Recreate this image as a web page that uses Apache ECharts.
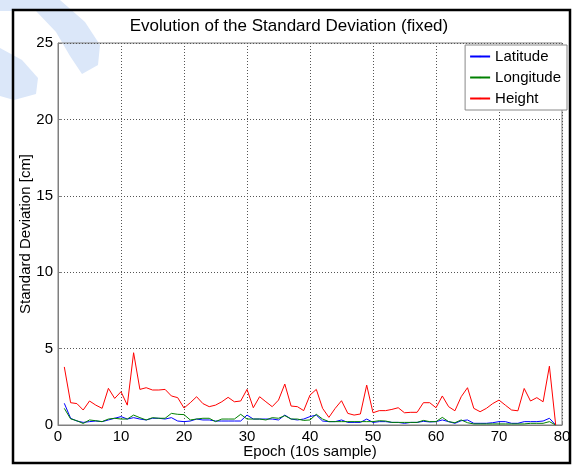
<!DOCTYPE html>
<html>
<head>
<meta charset="utf-8">
<script src="https://cdn.jsdelivr.net/npm/echarts@6/dist/echarts.min.js"></script>
<style>html,body{margin:0;padding:0;background:#fff;}#c{width:572px;height:465px;}</style>
</head>
<body>
<div id="c"></div>
<script>
const epochs = [1,2,3,4,5,6,7,8,9,10,11,12,13,14,15,16,17,18,19,20,21,22,23,24,25,26,27,28,29,30,31,32,33,34,35,36,37,38,39,40,41,42,43,44,45,46,47,48,49,50,51,52,53,54,55,56,57,58,59,60,61,62,63,64,65,66,67,68,69,70,71,72,73,74,75,76,77,78,79];
const latitude = [1.42,0.44,0.26,0.17,0.22,0.26,0.22,0.33,0.44,0.55,0.39,0.48,0.39,0.33,0.44,0.44,0.39,0.48,0.26,0.22,0.26,0.39,0.33,0.33,0.26,0.26,0.26,0.26,0.26,0.65,0.39,0.39,0.39,0.39,0.33,0.65,0.39,0.33,0.39,0.55,0.65,0.26,0.22,0.22,0.33,0.17,0.17,0.17,0.39,0.17,0.22,0.22,0.17,0.17,0.11,0.17,0.17,0.24,0.2,0.22,0.33,0.22,0.11,0.28,0.33,0.11,0.11,0.11,0.15,0.22,0.22,0.11,0.11,0.22,0.22,0.22,0.26,0.44,0];
const longitude = [1.09,0.4,0.28,0.1,0.33,0.28,0.22,0.39,0.44,0.39,0.39,0.65,0.48,0.33,0.48,0.44,0.44,0.76,0.7,0.68,0.33,0.39,0.44,0.44,0.22,0.39,0.39,0.39,0.7,0.39,0.39,0.39,0.33,0.48,0.44,0.61,0.39,0.39,0.3,0.33,0.7,0.39,0.22,0.22,0.22,0.22,0.22,0.22,0.22,0.22,0.28,0.26,0.17,0.17,0.17,0.17,0.17,0.3,0.22,0.22,0.5,0.22,0.15,0.33,0.15,0.07,0.07,0.07,0.07,0.07,0.07,0.07,0.07,0.07,0.11,0.11,0.11,0.22,0];
const height = [3.8,1.46,1.4,0.98,1.57,1.3,1.09,2.4,1.74,2.18,1.3,4.73,2.33,2.44,2.29,2.29,2.33,1.9,1.79,1.11,1.46,1.85,1.4,1.2,1.3,1.52,1.81,1.52,1.57,2.33,1.13,1.85,1.52,1.2,1.63,2.68,1.24,1.2,0.94,1.96,2.33,1.09,0.5,1.09,1.59,0.76,0.65,0.72,2.61,0.8,0.94,0.94,1.02,1.13,0.8,0.83,0.83,1.46,1.46,1.13,1.9,1.2,0.93,1.85,2.44,1.09,0.87,1.09,1.4,1.63,1.3,0.98,0.93,2.39,1.57,1.79,1.52,3.85,0];
const xTicks = [0,10,20,30,40,50,60,70,80];
const yTicks = [0,5,10,15,20,25];

const pairs = arr => epochs.map((e,i)=>[e,arr[i]]);
const font = '"Liberation Sans", Arial, sans-serif';
const chart = echarts.init(document.getElementById('c'), null, {renderer:'canvas'});
chart.setOption({
  animation:false,
  backgroundColor:'#fff',
  title:{text:'Evolution of the Standard Deviation (fixed)', left:284, top:13, textAlign:'center',
    textStyle:{fontFamily:font, fontSize:17, fontWeight:'normal', color:'#000'}},
  grid:{left:58, right:10, top:43, bottom:40, containLabel:false, outerBoundsMode:'none', show:true, borderColor:'#7f7f7f', borderWidth:1},
  legend:{orient:'vertical', right:5, top:45, itemWidth:20, itemHeight:2, itemGap:6,
    backgroundColor:'#fff', borderColor:'#888', borderWidth:1, padding:[4,6,4,4],
    textStyle:{fontFamily:font, fontSize:15, color:'#000'},
    data:['Latitude','Longitude','Height']},
  xAxis:{type:'value', min:xTicks[0], max:xTicks[xTicks.length-1], interval:10,
    name:'Epoch (10s sample)', nameLocation:'middle', nameGap:19, nameMoveOverlap:false,
    nameTextStyle:{fontFamily:font, fontSize:15, color:'#000'},
    axisLine:{show:true, lineStyle:{color:'#7f7f7f'}},
    axisTick:{show:true, inside:true, length:4, lineStyle:{color:'#7f7f7f'}},
    axisLabel:{fontFamily:font, fontSize:15, color:'#000', margin:4, showMaxLabel:true, showMinLabel:true},
    splitLine:{show:true, lineStyle:{color:'#555', type:[1,2], width:1}}},
  yAxis:{type:'value', min:yTicks[0], max:yTicks[yTicks.length-1], interval:5,
    name:'Standard Deviation [cm]', nameLocation:'middle', nameGap:25, nameMoveOverlap:false,
    nameTextStyle:{fontFamily:font, fontSize:15, color:'#000'},
    axisLine:{show:true, lineStyle:{color:'#7f7f7f'}},
    axisTick:{show:true, inside:true, length:4, lineStyle:{color:'#7f7f7f'}},
    axisLabel:{fontFamily:font, fontSize:15, color:'#000', margin:5},
    splitLine:{show:true, lineStyle:{color:'#555', type:[1,2], width:1}}},
  series:[
    {name:'Latitude', type:'line', data:pairs(latitude), symbol:'none', lineStyle:{color:'#0000ff', width:1}, itemStyle:{color:'#0000ff'}},
    {name:'Longitude', type:'line', data:pairs(longitude), symbol:'none', lineStyle:{color:'#008000', width:1}, itemStyle:{color:'#008000'}},
    {name:'Height', type:'line', data:pairs(height), symbol:'none', lineStyle:{color:'#ff0000', width:1}, itemStyle:{color:'#ff0000'}}
  ],
  graphic:[
    {type:'polygon', z:-10, shape:{points:[[0,0],[60,0],[85,22],[100,45],[98,65],[82,74],[70,56],[56,32],[36,11],[0,11]]}, style:{fill:'#dbe7f9'}, silent:true},
    {type:'polygon', z:-10, shape:{points:[[0,48],[22,60],[38,78],[36,94],[14,100],[0,96]]}, style:{fill:'#dbe7f9'}, silent:true},
    {type:'rect', shape:{x:13, y:10, width:557, height:453}, style:{fill:'none', stroke:'#000', lineWidth:2.5}, z:100}
  ]
});
</script>
</body>
</html>
